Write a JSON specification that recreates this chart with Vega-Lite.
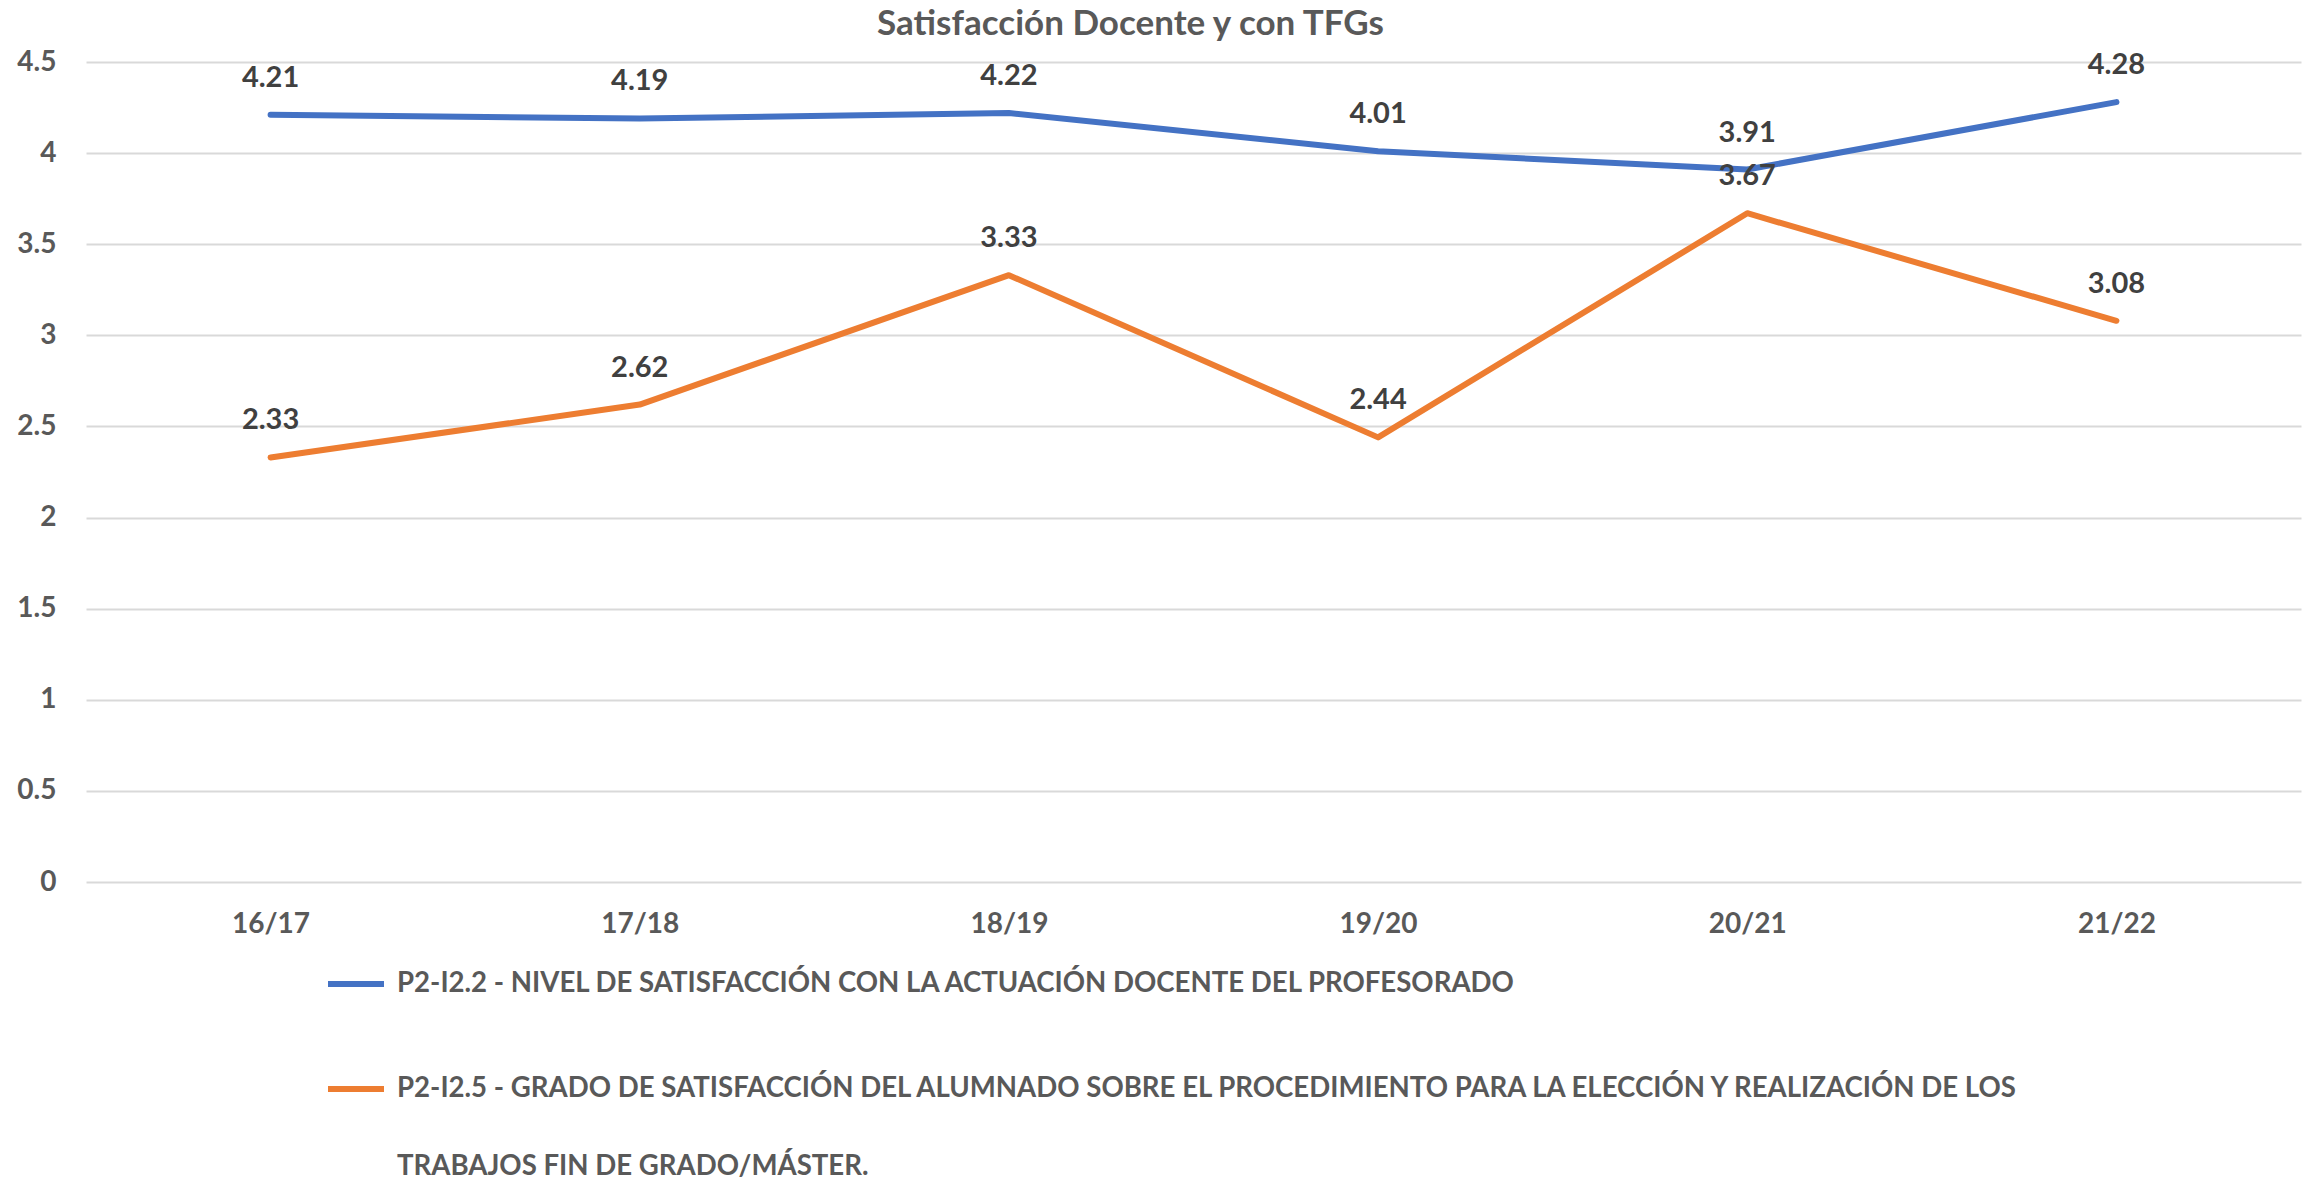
{
  "$schema": "https://vega.github.io/schema/vega-lite/v6.json",
  "width": 2215,
  "height": 820,
  "autosize": "none",
  "padding": {"left": 86, "top": 62, "right": 15, "bottom": 299},
  "background": "white",
  "title": {
    "text": "Satisfacción Docente y con TFGs",
    "anchor": "middle",
    "dx": -63,
    "offset": 6,
    "font": "Lato",
    "fontSize": 35,
    "fontWeight": "bold",
    "color": "#595959"
  },
  "data": {
    "values": [
      {"year": "16/17", "series": "P2-I2.2 - NIVEL DE SATISFACCIÓN CON LA ACTUACIÓN DOCENTE DEL PROFESORADO", "value": 4.21},
      {"year": "17/18", "series": "P2-I2.2 - NIVEL DE SATISFACCIÓN CON LA ACTUACIÓN DOCENTE DEL PROFESORADO", "value": 4.19},
      {"year": "18/19", "series": "P2-I2.2 - NIVEL DE SATISFACCIÓN CON LA ACTUACIÓN DOCENTE DEL PROFESORADO", "value": 4.22},
      {"year": "19/20", "series": "P2-I2.2 - NIVEL DE SATISFACCIÓN CON LA ACTUACIÓN DOCENTE DEL PROFESORADO", "value": 4.01},
      {"year": "20/21", "series": "P2-I2.2 - NIVEL DE SATISFACCIÓN CON LA ACTUACIÓN DOCENTE DEL PROFESORADO", "value": 3.91},
      {"year": "21/22", "series": "P2-I2.2 - NIVEL DE SATISFACCIÓN CON LA ACTUACIÓN DOCENTE DEL PROFESORADO", "value": 4.28},
      {"year": "16/17", "series": "P2-I2.5 - GRADO DE SATISFACCIÓN DEL ALUMNADO SOBRE EL PROCEDIMIENTO PARA LA ELECCIÓN Y REALIZACIÓN DE LOS TRABAJOS FIN DE GRADO/MÁSTER.", "value": 2.33},
      {"year": "17/18", "series": "P2-I2.5 - GRADO DE SATISFACCIÓN DEL ALUMNADO SOBRE EL PROCEDIMIENTO PARA LA ELECCIÓN Y REALIZACIÓN DE LOS TRABAJOS FIN DE GRADO/MÁSTER.", "value": 2.62},
      {"year": "18/19", "series": "P2-I2.5 - GRADO DE SATISFACCIÓN DEL ALUMNADO SOBRE EL PROCEDIMIENTO PARA LA ELECCIÓN Y REALIZACIÓN DE LOS TRABAJOS FIN DE GRADO/MÁSTER.", "value": 3.33},
      {"year": "19/20", "series": "P2-I2.5 - GRADO DE SATISFACCIÓN DEL ALUMNADO SOBRE EL PROCEDIMIENTO PARA LA ELECCIÓN Y REALIZACIÓN DE LOS TRABAJOS FIN DE GRADO/MÁSTER.", "value": 2.44},
      {"year": "20/21", "series": "P2-I2.5 - GRADO DE SATISFACCIÓN DEL ALUMNADO SOBRE EL PROCEDIMIENTO PARA LA ELECCIÓN Y REALIZACIÓN DE LOS TRABAJOS FIN DE GRADO/MÁSTER.", "value": 3.67},
      {"year": "21/22", "series": "P2-I2.5 - GRADO DE SATISFACCIÓN DEL ALUMNADO SOBRE EL PROCEDIMIENTO PARA LA ELECCIÓN Y REALIZACIÓN DE LOS TRABAJOS FIN DE GRADO/MÁSTER.", "value": 3.08}
    ]
  },
  "encoding": {
    "x": {
      "field": "year",
      "type": "ordinal",
      "scale": {"type": "point", "padding": 0.5},
      "axis": {
        "title": null,
        "labelAngle": 0,
        "domain": false,
        "ticks": false,
        "grid": false,
        "labelPadding": 28,
        "labelFont": "Lato",
        "labelFontSize": 28,
        "labelFontWeight": "bold",
        "labelColor": "#595959"
      }
    },
    "y": {
      "field": "value",
      "type": "quantitative",
      "scale": {"domain": [0, 4.5], "nice": false, "zero": true},
      "axis": {
        "title": null,
        "values": [0, 0.5, 1, 1.5, 2, 2.5, 3, 3.5, 4, 4.5],
        "labelExpr": "datum.value",
        "domain": false,
        "ticks": false,
        "grid": true,
        "gridColor": "#D9D9D9",
        "gridWidth": 2,
        "labelPadding": 30,
        "labelFont": "Lato",
        "labelFontSize": 28,
        "labelFontWeight": "bold",
        "labelColor": "#595959"
      }
    }
  },
  "layer": [
    {
      "mark": {"type": "line", "strokeWidth": 6, "strokeCap": "round", "strokeJoin": "round"},
      "encoding": {
        "color": {
          "field": "series",
          "type": "nominal",
          "scale": {
            "domain": [
              "P2-I2.2 - NIVEL DE SATISFACCIÓN CON LA ACTUACIÓN DOCENTE DEL PROFESORADO",
              "P2-I2.5 - GRADO DE SATISFACCIÓN DEL ALUMNADO SOBRE EL PROCEDIMIENTO PARA LA ELECCIÓN Y REALIZACIÓN DE LOS TRABAJOS FIN DE GRADO/MÁSTER."
            ],
            "range": ["#4472C4", "#ED7D31"]
          },
          "legend": {
            "title": null,
            "orient": "none",
            "legendX": 239,
            "legendY": 891,
            "padding": 0,
            "symbolType": "stroke",
            "symbolSize": 3136,
            "symbolStrokeWidth": 6,
            "labelOffset": 10,
            "labelLimit": 0,
            "rowPadding": 60,
            "labelBaseline": "middle",
            "labelFont": "Lato",
            "labelFontSize": 27.6,
            "labelFontWeight": "bold",
            "labelColor": "#595959",
            "labelExpr": "indexof(datum.label, 'TRABAJOS') > 0 ? ['P2-I2.5 - GRADO DE SATISFACCIÓN DEL ALUMNADO SOBRE EL PROCEDIMIENTO PARA LA ELECCIÓN Y REALIZACIÓN DE LOS', 'TRABAJOS FIN DE GRADO/MÁSTER.'] : datum.label",
            "encode": {"labels": {"update": {"lineHeight": {"value": 78}}}}
          }
        }
      }
    },
    {
      "mark": {
        "type": "text",
        "dy": -37,
        "font": "Lato",
        "fontSize": 29,
        "fontWeight": "bold",
        "color": "#404040"
      },
      "encoding": {
        "text": {"field": "value", "type": "quantitative", "format": ".2f"},
        "detail": {"field": "series", "type": "nominal"}
      }
    }
  ],
  "config": {
    "view": {"stroke": null}
  }
}
